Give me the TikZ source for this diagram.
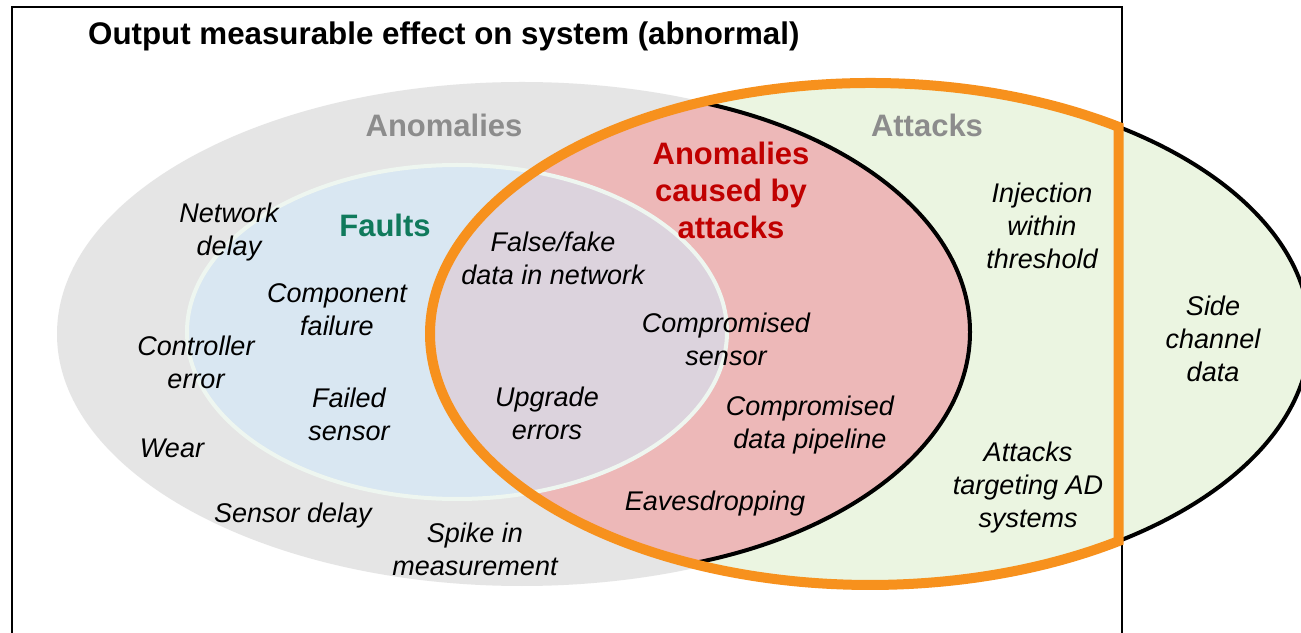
\documentclass[tikz,border=0pt]{standalone}
\usepackage{fontspec}
\setmainfont{Liberation Sans}
\definecolor{grayfill}{HTML}{E5E5E5}
\definecolor{greenfill}{HTML}{EBF5E1}
\definecolor{redfill}{HTML}{EDB8B8}
\definecolor{purplefill}{HTML}{DCD3DD}
\definecolor{bluefill}{HTML}{D9E7F2}
\definecolor{blueborder}{HTML}{EEF6F0}
\definecolor{orangeline}{HTML}{F7911D}
\definecolor{headgray}{HTML}{8C8C8C}
\definecolor{headred}{HTML}{C00000}
\definecolor{headgreen}{HTML}{107A5C}
\begin{document}
\begin{tikzpicture}[x=1pt,y=1pt,
  lbl/.style={font=\itshape\fontsize{27}{33}\selectfont, align=center, text=black, inner sep=0pt},
  head/.style={font=\bfseries\fontsize{31}{37}\selectfont, align=center, inner sep=0pt},
  attacksell/.style={x radius=440, y radius=251},
  redell/.style={x radius=400, y radius=243},
  blueell/.style={x radius=270, y radius=167},
  grayell/.style={x radius=465, y radius=252}]
\useasboundingbox (0,0) rectangle (1301,632);
\fill[white] (0,0) rectangle (1301,632);
% frame
\draw[line width=2pt] (12,-5) -- (12,625) -- (1122,625) -- (1122,-5);
% anomalies
\fill[grayfill] (522,298) ellipse [grayell];
% attacks
\fill[greenfill] (870,298) ellipse [attacksell];
\draw[line width=4pt] (870,298) ellipse [attacksell];
% anomalies caused by attacks
\begin{scope}
  \clip (870,298) ellipse [attacksell];
  \fill[redfill] (570,300) ellipse [redell];
  \draw[line width=4pt] (570,300) ellipse [redell];
\end{scope}
% faults
\fill[bluefill] (457,300) ellipse [blueell];
\begin{scope}
  \clip (870,298) ellipse [attacksell];
  \clip (570,300) ellipse [redell];
  \fill[purplefill] (457,300) ellipse [blueell];
\end{scope}
\draw[blueborder, line width=4pt] (457,300) ellipse [blueell];
% observable attacks (orange)
\draw[orangeline, line width=10pt, line join=miter]
  (1118.6,505.1) arc[start angle=55.6, end angle=304.4, attacksell] -- cycle;
% title
\node[head, anchor=base west, font=\bfseries\fontsize{31.3}{37}\selectfont] (title) at (88,587) {Output measurable effect on system (abnormal)};
% headings
\node[head, text=headgray] (hanom) at (444,507) {Anomalies};
\node[head, text=headgray] (hatt) at (927,507) {Attacks};
\node[head, text=headgreen] (hfault) at (385,407) {Faults};
\node[head, text=headred] (hcaused) at (731,442) {Anomalies\\caused by\\attacks};
% labels
\node[lbl] (netdelay) at (229,400) {Network\\delay};
\node[lbl] (compfail) at (337,322) {Component\\failure};
\node[lbl] (ctrlerr) at (196,270) {Controller\\error};
\node[lbl] (failsens) at (349,218) {Failed\\sensor};
\node[lbl] (wear) at (172,184) {Wear};
\node[lbl] (sensdelay) at (293,116) {Sensor delay};
\node[lbl] (spike) at (475,83) {Spike in\\measurement};
\node[lbl] (fake) at (553,374) {False/fake\\data in network};
\node[lbl] (upgrade) at (547,219) {Upgrade\\errors};
\node[lbl] (compsens) at (726,293) {Compromised\\sensor};
\node[lbl] (pipeline) at (810,207) {Compromised\\data pipeline};
\node[lbl] (eaves) at (715,128) {Eavesdropping};
\node[lbl] (inject) at (1042,406) {Injection\\within\\threshold};
\node[lbl] (targetad) at (1028,144) {Attacks\\targeting AD\\systems};
\node[lbl] (side) at (1213,293) {Side\\channel\\data};
\end{tikzpicture}
\end{document}
